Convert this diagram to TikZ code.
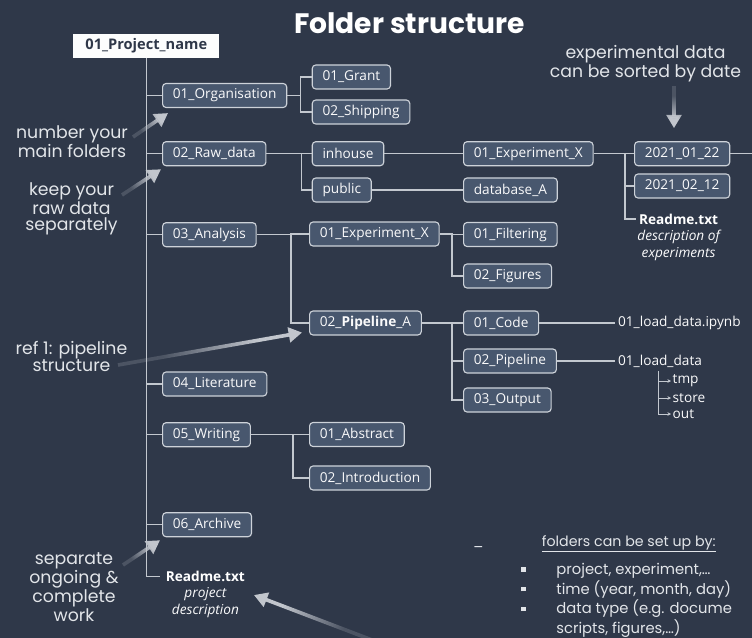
\documentclass[tikz,border=0pt]{standalone}
\usepackage{fontspec}
\usepackage{tikz}
\usetikzlibrary{arrows.meta,positioning,shapes,fadings}
\newfontfamily\boxfont{Open Sans}
\newfontfamily\notefont{Poppins}
\definecolor{bgcol}{HTML}{2F3849}
\definecolor{boxfill}{HTML}{48576E}
\definecolor{boxline}{HTML}{CDD2D9}
\definecolor{treeline}{HTML}{C3C8CF}
\definecolor{notetext}{HTML}{E2E5E9}
\definecolor{hintcol}{HTML}{C2C6CD}
\tikzfading[name=hintfade, left color=transparent!80, right color=transparent!0]
\tikzstyle{folder} = [rectangle, draw=boxline, fill=boxfill, line width=0.8pt,
    rounded corners=2.5pt, minimum height=0.6cm, inner xsep=7.3pt, inner ysep=0pt,
    anchor=west, text=white!90!boxline, font=\boxfont\fontsize{9.7}{11}\selectfont]
\tikzstyle{rootbox} = [rectangle, fill=white!95!boxline, minimum height=0.575cm,
    inner xsep=8.6pt, text=bgcol, font=\boxfont\bfseries\fontsize{10.4}{12}\selectfont]
\tikzstyle{file} = [inner xsep=2pt, inner ysep=2pt, anchor=west, text=white!90!boxline,
    font=\boxfont\fontsize{9.7}{11}\selectfont]
\tikzstyle{readme} = [inner xsep=2pt, inner ysep=2pt, anchor=west, text=white,
    font=\boxfont\bfseries\fontsize{9.7}{11}\selectfont]
\tikzstyle{descr} = [inner sep=2pt, align=center, text=white!90!boxline,
    font=\boxfont\itshape\fontsize{9.7}{12}\selectfont]
\tikzstyle{note} = [align=center, inner sep=0pt, text=notetext,
    font=\notefont\fontsize{12.3}{11}\selectfont]
\tikzstyle{line} = [draw, color=treeline, line width=0.9pt]
\tikzstyle{hint} = [draw=hintcol, line width=2.6pt, -{Triangle[length=9.5pt,width=10.5pt]},
    path fading=hintfade, fit fading=false]
\newcommand{\blt}{\raisebox{2pt}{\rule{3pt}{3pt}}}

\begin{document}
\begin{tikzpicture}[x=0.025cm, y=-0.025cm]
  \fill[bgcol] (0,0) rectangle (752,638);
  \useasboundingbox (0,0) rectangle (752,638);
    % Place nodes
    \node [anchor=base, text=white, font=\notefont\bfseries\fontsize{20}{24}\selectfont] (title) at (409.5,33) {Folder structure};
    \node [rootbox] (proj) at (146.3,45.8) {01\_Project\_name};
    \node [folder] (org) at (162,95.5) {01\_Organisation};
    \node [folder] (raw) at (162,153.7) {02\_Raw\_data};
    \node [folder] (ana) at (162,234.7) {03\_Analysis};
    \node [folder] (lit) at (162,384) {04\_Literature};
    \node [folder] (wri) at (162,434.7) {05\_Writing};
    \node [folder] (arc) at (162,524.7) {06\_Archive};
    \node [readme, inner xsep=4pt] (readmeMain) at (160,576.5) {Readme.txt};
    \node [descr, below=0pt of readmeMain] (descMain) {project\\description};

    \node [folder] (grant) at (311.7,77) {01\_Grant};
    \node [folder] (ship) at (311.7,112) {02\_Shipping};
    \node [folder] (inh) at (311.7,153.7) {inhouse};
    \node [folder] (pub) at (311.7,190) {public};
    \node [folder] (rawExp) at (463,153.7) {01\_Experiment\_X};
    \node [folder] (dbA) at (463,190) {database\_A};
    \node [folder] (dayA) at (634,153.7) {2021\_01\_22};
    \node [folder] (dayB) at (634,186) {2021\_02\_12};
    \node [readme] (readmeExp) at (636,219) {Readme.txt};
    \node [descr, below=0pt of readmeExp] (descExp) {description of\\experiments};

    \node [folder] (anaExp) at (309,234) {01\_Experiment\_X};
    \node [folder] (pipe) at (309,323) {02\_\textbf{Pipeline}\_A};
    \node [folder] (filt) at (463,234.5) {01\_Filtering};
    \node [folder] (figs) at (463,276) {02\_Figures};
    \node [folder] (code) at (463,323) {01\_Code};
    \node [folder] (pipeDir) at (463,361) {02\_Pipeline};
    \node [folder] (outDir) at (463,400) {03\_Output};
    \node [file] (ipynb) at (615,323) {01\_load\_data.ipynb};
    \node [file] (loadData) at (615,361) {01\_load\_data};
    \node [file, inner xsep=1pt] (tmp) at (671,381) {tmp};
    \node [file, inner xsep=1pt] (store) at (671,398) {store};
    \node [file, inner xsep=1pt] (out) at (671,414) {out};

    \node [folder] (abs) at (309,434.5) {01\_Abstract};
    \node [folder] (intro) at (309,478) {02\_Introduction};

    % notes on the left and right
    \node [note, font=\notefont\fontsize{12.3}{10.6}\selectfont] (annNum) at (72,142) {number your\\main folders};
    \node [note, font=\notefont\fontsize{12.3}{12}\selectfont] (annKeep) at (71.5,209) {keep your\\raw data\\separately};
    \node [note, font=\notefont\fontsize{12.3}{9.6}\selectfont] (annRef) at (71.5,356.5) {ref 1: pipeline\\structure};
    \node [note, font=\notefont\fontsize{12.3}{11.8}\selectfont] (annSep) at (74,587) {separate\\ongoing \&\\complete\\work};
    \node [note, font=\notefont\fontsize{12.3}{11.4}\selectfont] (annExp) at (645.5,64) {experimental data\\can be sorted by date};

    \node [note, anchor=base west, font=\notefont\fontsize{10.5}{14}\selectfont] (dash) at (473,552) {–};
    \node [note, anchor=base west, font=\notefont\fontsize{10.1}{14}\selectfont] (listHead) at (541.7,546) {\underline{folders can be set up by:}};
    \node [note, anchor=north west, align=left, font=\notefont\fontsize{10.5}{14}\selectfont] (listBody) at (521,563)
      {\makebox[25pt][l]{\blt}project, experiment,…\\
       \makebox[25pt][l]{\blt}time (year, month, day)\\
       \makebox[25pt][l]{\blt}data type (e.g. docume\\
       \hspace*{25pt}scripts, figures,…)};

%     % Draw edges
    \path [line] (proj.south) |- (org.west);
    \path [line] (proj.south) |- (raw.west);
    \path [line] (proj.south) |- (ana.west);
    \path [line] (proj.south) |- (lit.west);
    \path [line] (proj.south) |- (wri.west);
    \path [line] (proj.south) |- (arc.west);
    \path [line] (proj.south) |- (readmeMain.west);

    \path [line] (org.east) -| ([shift={(-11,0)}]grant.west) -- (grant.west);
    \path [line] (org.east) -| ([shift={(-11,0)}]ship.west) -- (ship.west);
    \path [line] (raw.east) -| ([shift={(-10,0)}]inh.west) -- (inh.west);
    \path [line] (raw.east) -| ([shift={(-10,0)}]pub.west) -- (pub.west);
    \path [line] (inh.east) -- (rawExp.west);
    \path [line] (pub.east) -- (dbA.west);
    \path [line] (rawExp.east) -| ([shift={(-9,0)}]dayA.west) -- (dayA.west);
    \path [line] (rawExp.east) -| ([shift={(-9,0)}]dayB.west) -- (dayB.west);
    \path [line] (rawExp.east) -| ([shift={(-9,0)}]dayB.west) |- (readmeExp.west);
    \path [line] (dayA.east) -- ++(30,0);

    \path [line] (ana.east) -| ([shift={(-18,0)}]anaExp.west) -- (anaExp.west);
    \path [line] (ana.east) -| ([shift={(-18,0)}]pipe.west) -- (pipe.west);
    \path [line] (anaExp.east) -| ([shift={(-11,0)}]filt.west) -- (filt.west);
    \path [line] (anaExp.east) -| ([shift={(-11,0)}]figs.west) -- (figs.west);
    \path [line] (pipe.east) -| ([shift={(-11,0)}]code.west) -- (code.west);
    \path [line] (pipe.east) -| ([shift={(-11,0)}]pipeDir.west) -- (pipeDir.west);
    \path [line] (pipe.east) -| ([shift={(-11,0)}]outDir.west) -- (outDir.west);
    \path [line] (code.east) -- (ipynb.west);
    \path [line] (pipeDir.east) -- (loadData.west);
    \coordinate (ldFork) at ([shift={(43,1)}]loadData.south west);
    \path [line, line width=0.7pt, -{Stealth[length=2.5pt,width=2.5pt]}] (ldFork) |- (tmp.west);
    \path [line, line width=0.7pt, -{Stealth[length=2.5pt,width=2.5pt]}] (ldFork) |- (store.west);
    \path [line, line width=0.7pt, -{Stealth[length=2.5pt,width=2.5pt]}] (ldFork) |- (out.west);

    \path [line] (wri.east) -| ([shift={(-16,0)}]abs.west) -- (abs.west);
    \path [line] (wri.east) -| ([shift={(-16,0)}]intro.west) -- (intro.west);

    % hint arrows, fading out towards the tail
    \coordinate (tNum) at (133,137);
    \coordinate (tKeep) at (122,195);
    \coordinate (tRef) at (118,365);
    \coordinate (tSep) at (123,565);
    \coordinate (tExp) at (674,86);
    \coordinate (tReadme) at (372,640);
    \path [hint, fading transform={shift={(150.5,125)}, rotate=34.4, scale=0.33}] (tNum) -- ([shift={(6,5)}]org.south west);
    \path [hint, fading transform={shift={(141.5,182)}, rotate=34, scale=0.36}] (tKeep) -- ([shift={(-1,3)}]raw.south west);
    \path [hint, fading transform={shift={(210,348.5)}, rotate=10.2, scale=1.36}] (tRef) -- ([shift={(-7,-3)}]pipe.south west);
    \path [hint, fading transform={shift={(141.5,552.4)}, rotate=34.4, scale=0.35}] (tSep) -- ([shift={(-2,3)}]arc.south west);
    \path [hint, fading transform={shift={(674,107.4)}, rotate=-90, scale=0.33}] (tExp) -- ([shift={(0,-13)}]tExp |- dayA.north);
    \path [hint, fading transform={shift={(312.5,618.5)}, rotate=160.1, scale=0.93}] (tReadme) -- ([shift={(12,-8)}]descMain.east);
\end{tikzpicture}
\end{document}
